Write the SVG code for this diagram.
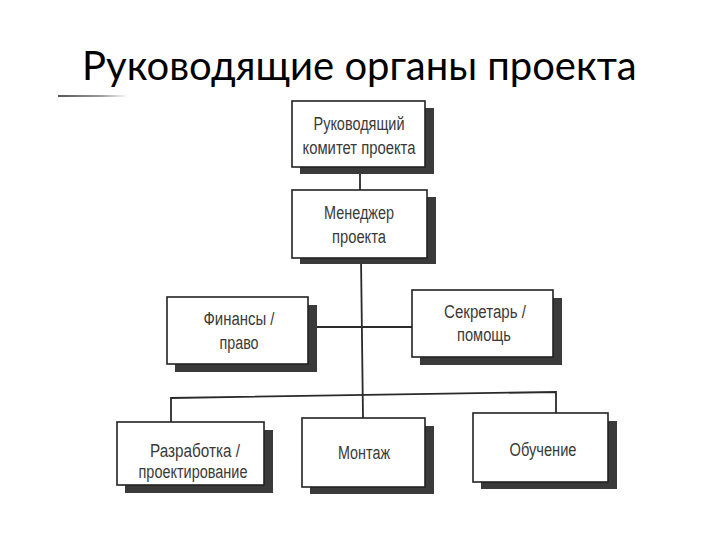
<svg xmlns="http://www.w3.org/2000/svg" width="720" height="540" viewBox="0 0 720 540">
  <defs>
    <linearGradient id="ul" x1="0" y1="0" x2="1" y2="0">
      <stop offset="0" stop-color="#555"/>
      <stop offset="0.6" stop-color="#999"/>
      <stop offset="1" stop-color="#fff"/>
    </linearGradient>
  </defs>
  <style>
    .title { font-family: Lato, "Open Sans", "Liberation Sans", sans-serif; font-size: 40px; fill: #000; }
    .shadow { fill: #3a3a3a; }
    .box { fill: #fff; stroke: #222; stroke-width: 1.6; }
    .lbl { font-family: "Liberation Sans Narrow", "Liberation Sans", sans-serif; font-size: 18px; fill: #3a3a3a; text-anchor: middle; }
    .conn { fill: none; stroke: #2a2a2a; stroke-width: 1.8; }
  </style>
  <rect width="720" height="540" fill="#fff"/>
  <text class="title" x="82" y="80">Руководящие органы проекта</text>
  <rect x="58" y="95" width="70" height="2" fill="url(#ul)"/>

  <g id="connectors">
    <line class="conn" x1="360" y1="167" x2="360" y2="190"/>
    <line class="conn" x1="361" y1="258" x2="363" y2="418"/>
    <line class="conn" x1="308" y1="327" x2="412" y2="327"/>
    <polyline class="conn" points="171,422 171,398 556,392 556,413"/>
  </g>

  <g id="node-committee">
    <rect class="shadow" x="300" y="108" width="134" height="66"/>
    <rect class="box" x="292" y="101" width="133" height="66"/>
    <text class="lbl" x="359" y="130" textLength="91" lengthAdjust="spacingAndGlyphs">Руководящий</text>
    <text class="lbl" x="359" y="154" textLength="113" lengthAdjust="spacingAndGlyphs">комитет проекта</text>
  </g>
  <g id="node-manager">
    <rect class="shadow" x="300" y="197" width="136" height="67"/>
    <rect class="box" x="292" y="190" width="135" height="68"/>
    <text class="lbl" x="359" y="219" textLength="70" lengthAdjust="spacingAndGlyphs">Менеджер</text>
    <text class="lbl" x="359" y="243" textLength="54" lengthAdjust="spacingAndGlyphs">проекта</text>
  </g>
  <g id="node-finance">
    <rect class="shadow" x="175" y="305" width="142" height="67"/>
    <rect class="box" x="167" y="297" width="141" height="67"/>
    <text class="lbl" x="239" y="325" textLength="71" lengthAdjust="spacingAndGlyphs">Финансы /</text>
    <text class="lbl" x="239" y="349" textLength="39" lengthAdjust="spacingAndGlyphs">право</text>
  </g>
  <g id="node-secretary">
    <rect class="shadow" x="420" y="298" width="142" height="67"/>
    <rect class="box" x="412" y="290" width="141" height="67"/>
    <text class="lbl" x="485" y="318" textLength="82" lengthAdjust="spacingAndGlyphs">Секретарь /</text>
    <text class="lbl" x="484" y="341" textLength="54" lengthAdjust="spacingAndGlyphs">помощь</text>
  </g>
  <g id="node-design">
    <rect class="shadow" x="125" y="430" width="148" height="63"/>
    <rect class="box" x="117" y="422" width="147" height="63"/>
    <text class="lbl" x="195" y="457" textLength="90" lengthAdjust="spacingAndGlyphs">Разработка /</text>
    <text class="lbl" x="193" y="478" textLength="109" lengthAdjust="spacingAndGlyphs">проектирование</text>
  </g>
  <g id="node-assembly">
    <rect class="shadow" x="310" y="426" width="124" height="68"/>
    <rect class="box" x="302" y="418" width="123" height="69"/>
    <text class="lbl" x="364" y="459" textLength="52" lengthAdjust="spacingAndGlyphs">Монтаж</text>
  </g>
  <g id="node-training">
    <rect class="shadow" x="481" y="421" width="136" height="68"/>
    <rect class="box" x="473" y="413" width="135" height="69"/>
    <text class="lbl" x="543" y="456" textLength="67" lengthAdjust="spacingAndGlyphs">Обучение</text>
  </g>
</svg>
